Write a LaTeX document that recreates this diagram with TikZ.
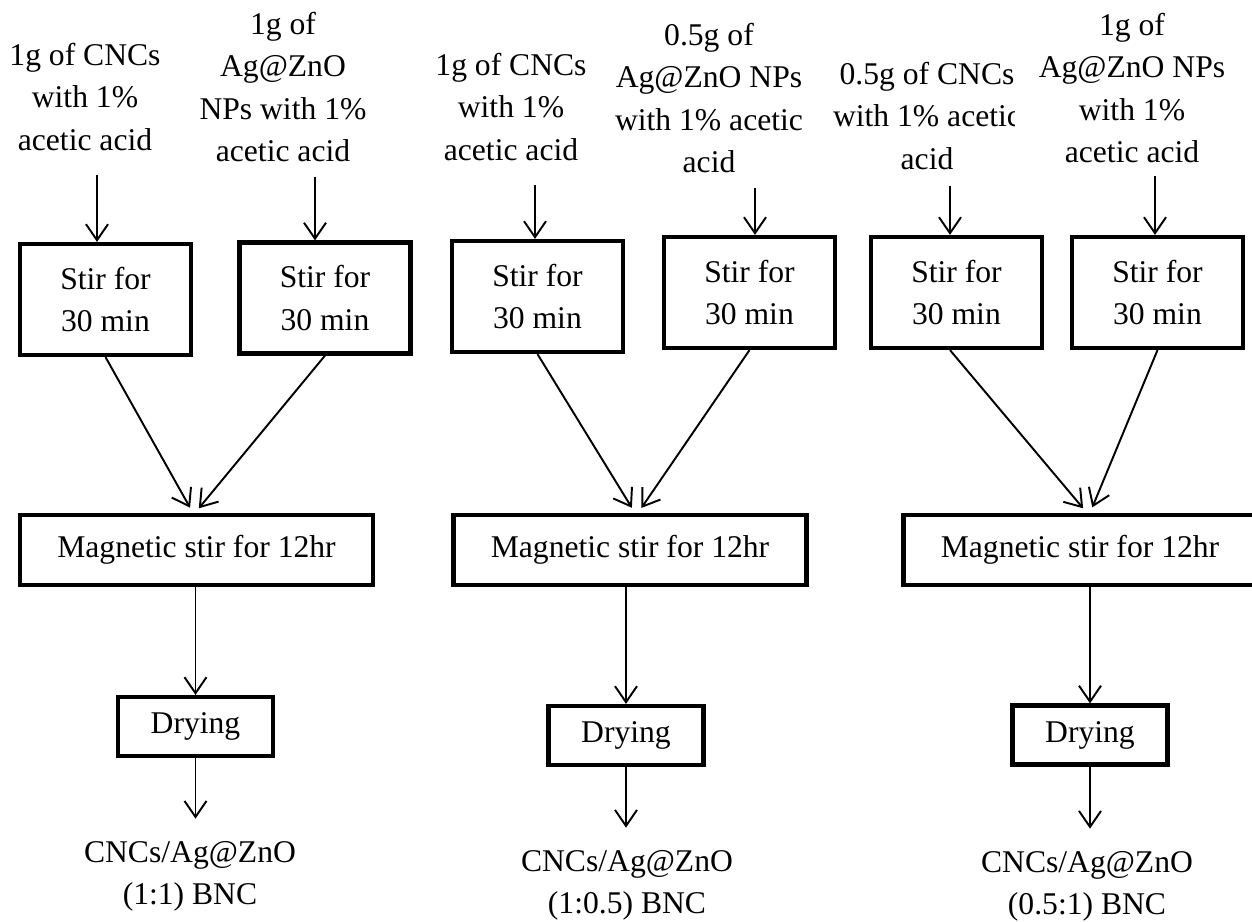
\documentclass[tikz,border=0pt]{standalone}
\usepackage{fontspec}
\setmainfont{Liberation Serif}
\usepackage{tikz}
\usetikzlibrary{arrows.meta}
\tikzset{
  flowarrow/.style={-{Straight Barb[length=3.2mm,width=4.4mm]}, line width=1.1pt},
  stirbox/.style={draw, line width=2.4pt, minimum width=3.42cm, minimum height=2.22cm, align=center},
  magbox/.style={draw, line width=2.4pt, minimum width=7.06cm, minimum height=1.4cm, align=center},
  drybox/.style={draw, line width=2.4pt, minimum width=3.1cm, minimum height=1.18cm, align=center},
  feedtext/.style={align=center, inner sep=2pt},
  outtext/.style={align=center, inner sep=2pt}
}

\begin{document}
\begin{tikzpicture}[x=0.02cm, y=-0.02cm, every node/.style={font=\fontsize{18}{24}\selectfont}]
  \clip (0,0) rectangle (1252,922);
  \fill[white] (0,0) rectangle (1252,922);

  \node[feedtext] (in1a) at (85,97) {1g of CNCs\\with 1\%\\acetic acid};
  \node[feedtext] (in1b) at (283,87) {1g of\\Ag@ZnO\\NPs with 1\%\\acetic acid};
  \node[feedtext] (in2a) at (511,107) {1g of CNCs\\with 1\%\\acetic acid};
  \node[feedtext] (in2b) at (709,98) {0.5g of\\Ag@ZnO NPs\\with 1\% acetic\\acid};
  \begin{scope}
    \clip (820,0) rectangle (1014,220);
    \node[feedtext] (in3a) at (927,116) {0.5g of CNCs\\with 1\% acetic\\acid};
  \end{scope}
  \node[feedtext] (in3b) at (1132,88) {1g of\\Ag@ZnO NPs\\with 1\%\\acetic acid};

  \node[stirbox] (st1a) at (105.5,299.5) {Stir for\\30 min};
  \node[stirbox] (st1b) at (325,298) {Stir for\\30 min};
  \node[stirbox] (st2a) at (537.5,296.5) {Stir for\\30 min};
  \node[stirbox] (st2b) at (749.5,292.5) {Stir for\\30 min};
  \node[stirbox] (st3a) at (956.5,292.5) {Stir for\\30 min};
  \node[stirbox] (st3b) at (1157.5,292.5) {Stir for\\30 min};

  \node[magbox] (mag1) at (196.5,550) {Magnetic stir for 12hr};
  \node[magbox] (mag2) at (630,550) {Magnetic stir for 12hr};
  \node[magbox] (mag3) at (1080,550) {Magnetic stir for 12hr};

  \node[drybox] (dry1) at (195.5,726.5) {Drying};
  \node[drybox] (dry2) at (626,735.5) {Drying};
  \node[drybox] (dry3) at (1090,735) {Drying};

  \node[outtext] (out1) at (190,876) {CNCs/Ag@ZnO\\(1:1) BNC};
  \node[outtext] (out2) at (627,885) {CNCs/Ag@ZnO\\(1:0.5) BNC};
  \node[outtext] (out3) at (1087,886) {CNCs/Ag@ZnO\\(0.5:1) BNC};

  \draw[flowarrow, shorten <=0.42cm] ([xshift=-0.17cm]st1a.north |- in1a.south) -- ([xshift=-0.17cm]st1a.north);
  \draw[flowarrow, shorten <=0.23cm] ([xshift=-0.2cm]st1b.north |- in1b.south) -- ([xshift=-0.2cm]st1b.north);
  \draw[flowarrow, shorten <=0.42cm] ([xshift=-0.05cm]st2a.north |- in2a.south) -- ([xshift=-0.05cm]st2a.north);
  \draw[flowarrow, shorten <=0.23cm] ([xshift=0.11cm]st2b.north |- in2b.south) -- ([xshift=0.11cm]st2b.north);
  \draw[flowarrow, shorten <=0.25cm] ([xshift=-0.13cm]st3a.north |- in3a.south) -- ([xshift=-0.13cm]st3a.north);
  \draw[flowarrow, shorten <=0.19cm] ([xshift=-0.05cm]st3b.north |- in3b.south) -- ([xshift=-0.05cm]st3b.north);

  \draw[flowarrow, shorten >=0.12cm] (st1a.south) -- ([xshift=-0.07cm]mag1.north);
  \draw[flowarrow, shorten >=0.12cm] (st1b.south) -- ([xshift=-0.03cm]mag1.north);
  \draw[flowarrow, shorten >=0.12cm] (st2a.south) -- ([xshift=0.1cm]mag2.north);
  \draw[flowarrow, shorten >=0.12cm] (st2b.south) -- ([xshift=0.16cm]mag2.north);
  \draw[flowarrow, shorten >=0.12cm] ([xshift=-0.13cm]st3a.south) -- ([xshift=0.14cm]mag3.north);
  \draw[flowarrow, shorten >=0.12cm] (st3b.south) -- ([xshift=0.2cm]mag3.north);

  \draw[flowarrow] (mag1.south -| dry1.north) -- (dry1.north);
  \draw[flowarrow] (mag2.south -| dry2.north) -- (dry2.north);
  \draw[flowarrow] (mag3.south -| dry3.north) -- (dry3.north);

  \draw[flowarrow, shorten >=0.37cm] (dry1.south) -- (dry1.south |- out1.north);
  \draw[flowarrow, shorten >=0.37cm] (dry2.south) -- (dry2.south |- out2.north);
  \draw[flowarrow, shorten >=0.37cm] (dry3.south) -- (dry3.south |- out3.north);
\end{tikzpicture}
\end{document}
